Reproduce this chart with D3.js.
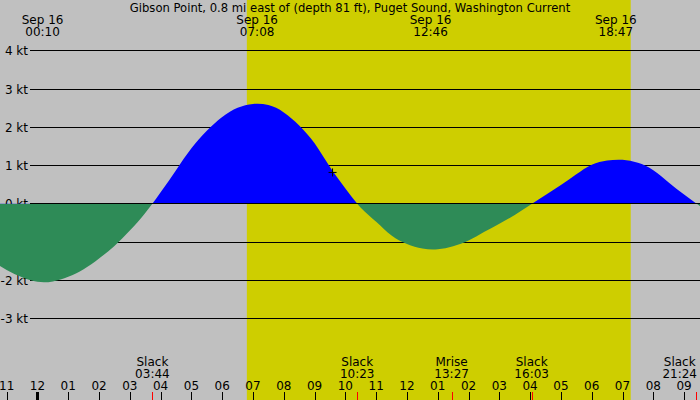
<!DOCTYPE html>
<html>
<head>
<meta charset="utf-8">
<script src="https://cdn.jsdelivr.net/npm/d3@7"></script>
<style>
  body { margin: 0; background: #fff; }
  svg text { font-family: "DejaVu Sans", sans-serif; font-size: 12px; fill: #000; }
</style>
</head>
<body>
<div id="chart"></div>
<script>
// chart texts
const title = "Gibson Point, 0.8 mi east of (depth 81 ft), Puget Sound, Washington Current";
const dayLabel = "Sep 16";

// current speed every half hour (knots, flood positive, ebb negative)
const flowTimes = [
  "09-15 22:30", "09-15 23:00", "09-15 23:30", "09-16 00:00", "09-16 00:30",
  "09-16 01:00", "09-16 01:30", "09-16 02:00", "09-16 02:30", "09-16 03:00",
  "09-16 03:30", "09-16 04:00", "09-16 04:30", "09-16 05:00", "09-16 05:30",
  "09-16 06:00", "09-16 06:30", "09-16 07:00", "09-16 07:30", "09-16 08:00",
  "09-16 08:30", "09-16 09:00", "09-16 09:30", "09-16 10:00", "09-16 10:30",
  "09-16 11:00", "09-16 11:30", "09-16 12:00", "09-16 12:30", "09-16 13:00",
  "09-16 13:30", "09-16 14:00", "09-16 14:30", "09-16 15:00", "09-16 15:30",
  "09-16 16:00", "09-16 16:30", "09-16 17:00", "09-16 17:30", "09-16 18:00",
  "09-16 18:30", "09-16 19:00", "09-16 19:30", "09-16 20:00", "09-16 20:30",
  "09-16 21:00", "09-16 21:30", "09-16 22:00"
];
const flowKnots = [
  -1.48, -1.73, -1.92, -2.04, -2.03,
  -1.91, -1.71, -1.43, -1.10, -0.70,
  -0.24, 0.30, 0.88, 1.45, 1.91,
  2.27, 2.51, 2.61, 2.58, 2.39,
  2.05, 1.58, 0.96, 0.40, -0.10,
  -0.47, -0.83, -1.05, -1.17, -1.19,
  -1.11, -0.96, -0.74, -0.52, -0.29,
  -0.03, 0.23, 0.49, 0.77, 1.02,
  1.13, 1.15, 1.07, 0.88, 0.56,
  0.24, -0.05, -0.30
];

// max flood / max ebb times shown along the top
const extremeTimes = ["00:10", "07:08", "12:46", "18:47"];
// events shown along the bottom
const eventNames = ["Slack", "Slack", "Mrise", "Slack", "Slack"];
const eventTimes = ["03:44", "10:23", "13:27", "16:03", "21:24"];
// daylight
const sunriseTime = "06:48";
const sunsetTime = "19:16";
// marker
const markTime = "09:35";
const markKnots = 0.82;
// y axis ticks
const knotTicks = [4, 3, 2, 1, 0, -1, -2, -3];

const width = 700, height = 400;
const parse = d3.timeParse("%m-%d %H:%M");
const onDay = s => parse("09-16 " + s);

const svg = d3.select("#chart")
  .append("svg")
  .attr("width", width)
  .attr("height", height);

// time scale: 22:47 the day before to 21:31
const x = d3.scaleTime()
  .domain([parse("09-15 22:47"), parse("09-16 21:31")])
  .range([0, width]);

const y = d3.scaleLinear()
  .domain([-4, 4])
  .range([356.8, 50.8]);

// night background + daylight band
svg.append("rect")
  .attr("width", width).attr("height", height)
  .attr("fill", "#c0c0c0");
svg.append("rect")
  .attr("x", x(onDay(sunriseTime)))
  .attr("width", x(onDay(sunsetTime)) - x(onDay(sunriseTime)))
  .attr("height", height)
  .attr("fill", "#cece00");

// horizontal knot lines and labels
const grid = svg.append("g");
grid.selectAll("line")
  .data(knotTicks)
  .join("line")
  .attr("x1", 30).attr("x2", width)
  .attr("y1", d => Math.floor(y(d)) + 0.5)
  .attr("y2", d => Math.floor(y(d)) + 0.5)
  .attr("stroke", "#000");
grid.selectAll("text")
  .data(knotTicks)
  .join("text")
  .attr("x", 28)
  .attr("y", d => y(d) + 4.5)
  .attr("text-anchor", "end")
  .text(d => d + " kt");

// current curve, blue above zero and green below
const flow = flowTimes.map((t, i) => ({ t: parse(t), v: flowKnots[i] }));
const area = d3.area()
  .x(d => x(d.t))
  .y0(y(0))
  .y1(d => y(d.v))
  .curve(d3.curveNatural);

const defs = svg.append("defs");
defs.append("clipPath").attr("id", "above")
  .append("rect").attr("width", width).attr("height", y(0));
defs.append("clipPath").attr("id", "below")
  .append("rect").attr("y", y(0)).attr("width", width).attr("height", height - y(0));

svg.append("path")
  .datum(flow)
  .attr("d", area)
  .attr("fill", "#0000ff")
  .attr("clip-path", "url(#above)");
svg.append("path")
  .datum(flow)
  .attr("d", area)
  .attr("fill", "#2e8b57")
  .attr("clip-path", "url(#below)");

// zero line on top
svg.append("line")
  .attr("x1", 30).attr("x2", width)
  .attr("y1", Math.floor(y(0)) + 0.5).attr("y2", Math.floor(y(0)) + 0.5)
  .attr("stroke", "#000");

// the little + marker
const mx = x(onDay(markTime)), my = y(markKnots);
svg.append("path")
  .attr("d", `M${mx - 4},${my}H${mx + 4}M${mx},${my - 4}V${my + 4}`)
  .attr("stroke", "#000")
  .attr("fill", "none");

// title
svg.append("text")
  .attr("x", width / 2)
  .attr("y", 12)
  .attr("text-anchor", "middle")
  .style("font-size", "11.6px")
  .text(title);

// max/min labels at the top
const topLabels = svg.append("g").selectAll("g")
  .data(extremeTimes)
  .join("g")
  .attr("transform", d => `translate(${x(onDay(d))},0)`);
topLabels.append("text").attr("y", 24).attr("text-anchor", "middle").text(dayLabel);
topLabels.append("text").attr("y", 36).attr("text-anchor", "middle").text(d => d);

// hour ticks along the bottom
const hours = x.ticks(d3.timeHour.every(1));
const hourAxis = svg.append("g");
hourAxis.selectAll("rect")
  .data(hours)
  .join("rect")
  .attr("x", d => d.getHours() === 0 ? Math.round(x(d)) - 1 : Math.round(x(d)))
  .attr("width", d => d.getHours() === 0 ? 3 : 1)
  .attr("y", 392).attr("height", 8)
  .attr("fill", "#000");
hourAxis.selectAll("text")
  .data(hours)
  .join("text")
  .attr("x", d => x(d))
  .attr("y", 390)
  .attr("text-anchor", "middle")
  .text(d3.timeFormat("%I"));

// events: red tick + name + time
const events = eventTimes.map((t, i) => ({ t: onDay(t), time: t, name: eventNames[i] }));
svg.append("g").selectAll("rect")
  .data(events)
  .join("rect")
  .attr("x", d => Math.round(x(d.t)))
  .attr("width", 1)
  .attr("y", 392).attr("height", 8)
  .attr("fill", "#ff0000");

const ev = svg.append("g").selectAll("g")
  .data(events)
  .join("g");
ev.append("text").attr("y", 366).attr("text-anchor", "middle").text(d => d.name);
ev.append("text").attr("y", 378).attr("text-anchor", "middle").text(d => d.time);
// keep labels inside the picture
ev.each(function(d) {
  const g = d3.select(this);
  let w = 0;
  g.selectAll("text").each(function() { w = Math.max(w, this.getComputedTextLength()); });
  let cx = x(d.t);
  if (cx + w / 2 > 697) cx = 697 - w / 2;
  g.attr("transform", `translate(${cx},0)`);
});
</script>
</body>
</html>
